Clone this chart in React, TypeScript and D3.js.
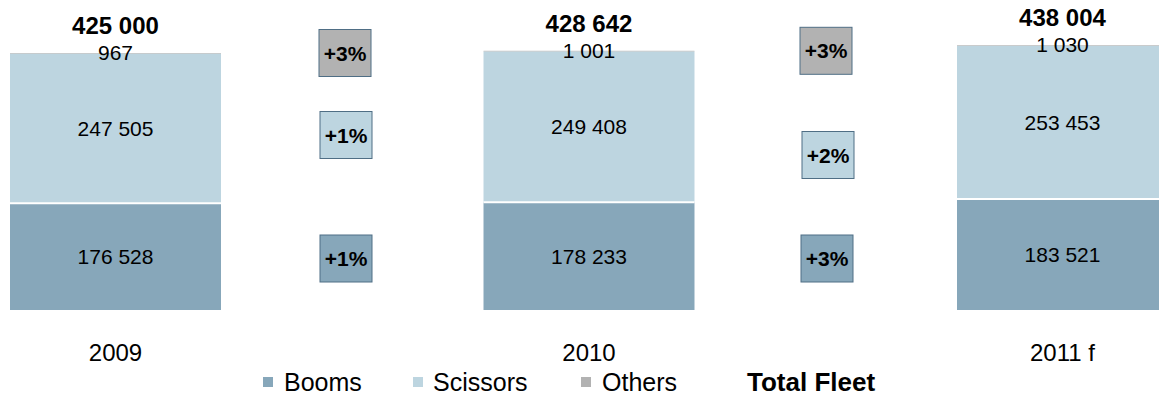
import React from "react";
import * as d3 from "d3";

const categories = ["2009", "2010", "2011 f"];
const booms = [176528, 178233, 183521];
const scissors = [247505, 249408, 253453];
const others = [967, 1001, 1030];
const totals = [425000, 428642, 438004];
const growthOthers = ["+3%", "+3%"];
const growthScissors = ["+1%", "+2%"];
const growthBooms = ["+1%", "+3%"];
const legendItems = ["Booms", "Scissors", "Others"];

const W = 1159;
const H = 405;
const COL_BOOMS = "#87A7BA";
const COL_SCISSORS = "#BDD5E0";
const COL_OTHERS = "#B2B2B2";
const BOX_STROKE = "#4F6E85";
const FONT = "Liberation Sans, Arial, sans-serif";

const fmt = (v: number) => d3.format(",")(v).replace(/,/g, " ");

export default function App() {
  const x = d3.scaleBand<string>().domain(categories).range([10, 1168]).paddingInner(0.5544).paddingOuter(0);
  const y = d3.scaleLinear().domain([0, 425000]).range([310, 53]);
  const bw = x.bandwidth();

  const boxX = [345, 826];
  const boxYOthers = [y(totals[0]), y(totals[1])];
  const boxYScissors = [135, 155];
  const boxYBooms = [258.5, 258.5];
  const bwBox = 52;
  const bhBox = 47;

  const legendSq = [263, 413, 581];
  const legendTxt = [284, 433, 602];
  const legendCols = [COL_BOOMS, COL_SCISSORS, COL_OTHERS];

  const box = (cx: number, cy: number, fill: string, label: string, key: string) => (
    <g key={key}>
      <rect x={cx - bwBox / 2} y={cy - bhBox / 2} width={bwBox} height={bhBox} fill={fill} stroke={BOX_STROKE} strokeWidth={1} />
      <text x={cx} y={cy + 7.5} textAnchor="middle" fontFamily={FONT} fontWeight="bold" fontSize={21} fill="#000">{label}</text>
    </g>
  );

  return (
    <svg width={W} height={H} style={{ position: "absolute", left: 0, top: 0, background: "#fff" }} viewBox={`0 0 ${W} ${H}`}>
      <rect width={W} height={H} fill="#fff" />
      {categories.map((c, i) => {
        const x0 = x(c)!;
        const yB = y(booms[i]);
        const yS = y(booms[i] + scissors[i]);
        const yT = y(booms[i] + scissors[i] + others[i]);
        const cx = x0 + bw / 2;
        return (
          <g key={c}>
            <rect x={x0} y={yB} width={bw} height={y(0) - yB} fill={COL_BOOMS} />
            <rect x={x0} y={yS} width={bw} height={yB - yS} fill={COL_SCISSORS} />
            <rect x={x0} y={yT} width={bw} height={yS - yT} fill={COL_OTHERS} />
            <line x1={x0} x2={x0 + bw} y1={yB} y2={yB} stroke="#fff" strokeWidth={2} />
            <text x={cx} y={(yB + y(0)) / 2 + 7.5} textAnchor="middle" fontFamily={FONT} fontSize={21} fill="#000">{fmt(booms[i])}</text>
            <text x={cx} y={(yB + yS) / 2 + 7.5} textAnchor="middle" fontFamily={FONT} fontSize={21} fill="#000">{fmt(scissors[i])}</text>
            <text x={cx} y={yT + 7} textAnchor="middle" fontFamily={FONT} fontSize={21} fill="#000">{fmt(others[i])}</text>
            <text x={cx} y={yT - 19} textAnchor="middle" fontFamily={FONT} fontWeight="bold" fontSize={24} fill="#000">{fmt(totals[i])}</text>
            <text x={cx} y={361} textAnchor="middle" fontFamily={FONT} fontSize={24} fill="#000">{c}</text>
          </g>
        );
      })}
      {growthOthers.map((g, i) => box(boxX[i], boxYOthers[i], COL_OTHERS, g, "o" + i))}
      {growthScissors.map((g, i) => box(boxX[i] + (i === 0 ? 1 : 2), boxYScissors[i], COL_SCISSORS, g, "s" + i))}
      {growthBooms.map((g, i) => box(boxX[i] + 1, boxYBooms[i], COL_BOOMS, g, "b" + i))}
      {legendItems.map((l, i) => (
        <g key={l}>
          <rect x={legendSq[i]} y={377} width={10} height={10} fill={legendCols[i]} />
          <text x={legendTxt[i]} y={391} fontFamily={FONT} fontSize={25} fill="#000">{l}</text>
        </g>
      ))}
      <text x={747} y={391} fontFamily={FONT} fontSize={26} fontWeight="bold" fill="#000">Total Fleet</text>
    </svg>
  );
}
